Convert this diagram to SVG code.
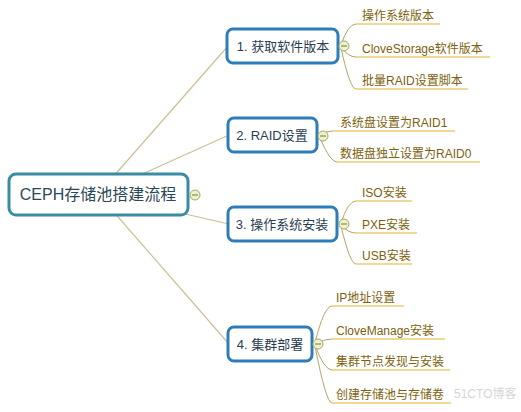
<svg xmlns="http://www.w3.org/2000/svg" width="521" height="412" viewBox="0 0 521 412">
<style>
.root{fill:#fff;stroke:#3a8ca3;stroke-width:3}
.node{fill:#fff;stroke:#2f7db8;stroke-width:3}
.rt{font-family:"Liberation Sans","Noto Sans CJK SC",sans-serif;font-size:16px;fill:#2d4756}
.nt{font-family:"Liberation Sans","Noto Sans CJK SC",sans-serif;font-size:13px;fill:#2b3d52}
.ct{font-family:"Liberation Sans","Noto Sans CJK SC",sans-serif;font-size:12px;fill:#7d5f0e}
.ul{stroke:#e2b42a;stroke-width:1.2;fill:none}
.cc{stroke:#b3a36c;stroke-width:1;fill:none}
.rc{stroke:#cdbf93;stroke-width:1.2;fill:none}
.tog{fill:#eef1cc;stroke:#9ead62;stroke-width:1}
.tm{stroke:#6f7d3a;stroke-width:1}
</style>
<g id="connectors">
<line class="rc" x1="98" y1="194" x2="228" y2="46"/>
<line class="rc" x1="98" y1="194" x2="229" y2="135"/>
<line class="rc" x1="98" y1="194" x2="229" y2="224"/>
<line class="rc" x1="98" y1="194" x2="229" y2="344"/>
<path class="cc" d="M341 45 Q348 24 356 24"/>
<path class="cc" d="M341 47 Q348 57 356 57"/>
<path class="cc" d="M341 48 Q350 89 356 89"/>
<path class="cc" d="M320 135 Q326 131 333 131"/>
<path class="cc" d="M320 138 Q330 162 337 162"/>
<path class="cc" d="M341 223 Q348 201 356 201"/>
<path class="cc" d="M341 225 Q348 233 356 233"/>
<path class="cc" d="M341 226 Q350 264 356 264"/>
<path class="cc" d="M315 343 Q324 306 332 306"/>
<path class="cc" d="M315 344 Q324 339 332 339"/>
<path class="cc" d="M315 345 Q324 370 332 370"/>
<path class="cc" d="M315 346 Q326 403 332 403"/>
<line class="ul" x1="356" y1="24" x2="440" y2="24"/>
<line class="ul" x1="356" y1="57" x2="490" y2="57"/>
<line class="ul" x1="356" y1="89" x2="468" y2="89"/>
<line class="ul" x1="333" y1="131" x2="455" y2="131"/>
<line class="ul" x1="337" y1="162" x2="480" y2="162"/>
<line class="ul" x1="356" y1="201" x2="412" y2="201"/>
<line class="ul" x1="356" y1="233" x2="417" y2="233"/>
<line class="ul" x1="356" y1="264" x2="412" y2="264"/>
<line class="ul" x1="332" y1="306" x2="404" y2="306"/>
<line class="ul" x1="332" y1="339" x2="445" y2="339"/>
<line class="ul" x1="332" y1="370" x2="450" y2="370"/>
<line class="ul" x1="332" y1="403" x2="451" y2="403"/>
</g>
<g id="root">
<rect class="root" x="9" y="174" width="179" height="41" rx="7"/>
<text class="rt" x="98" y="200" text-anchor="middle">CEPH存储池搭建流程</text>
<circle class="tog" cx="195" cy="195" r="5"/><line class="tm" x1="192" y1="195" x2="198" y2="195"/>
</g>
<g id="n1">
<rect class="node" x="227" y="29" width="111" height="34" rx="6"/>
<text class="nt" x="283" y="51" text-anchor="middle">1. 获取软件版本</text>
<circle class="tog" cx="344" cy="46" r="5"/><line class="tm" x1="341" y1="46" x2="347" y2="46"/>
</g>
<g id="n2">
<rect class="node" x="228" y="118" width="89" height="34" rx="6"/>
<text class="nt" x="272" y="140" text-anchor="middle">2. RAID设置</text>
<circle class="tog" cx="323" cy="136" r="5"/><line class="tm" x1="320" y1="136" x2="326" y2="136"/>
</g>
<g id="n3">
<rect class="node" x="228" y="207" width="109" height="34" rx="6"/>
<text class="nt" x="282" y="229" text-anchor="middle">3. 操作系统安装</text>
<circle class="tog" cx="344" cy="224" r="5"/><line class="tm" x1="341" y1="224" x2="347" y2="224"/>
</g>
<g id="n4">
<rect class="node" x="228" y="327" width="84" height="34" rx="6"/>
<text class="nt" x="270" y="349" text-anchor="middle">4. 集群部署</text>
<circle class="tog" cx="318" cy="344" r="5"/><line class="tm" x1="315" y1="344" x2="321" y2="344"/>
</g>
<g id="c1a"><text class="ct" x="362" y="20">操作系统版本</text></g>
<g id="c1b"><text class="ct" x="362" y="53">CloveStorage软件版本</text></g>
<g id="c1c"><text class="ct" x="362" y="85">批量RAID设置脚本</text></g>
<g id="c2a"><text class="ct" x="340" y="127">系统盘设置为RAID1</text></g>
<g id="c2b"><text class="ct" x="340" y="158">数据盘独立设置为RAID0</text></g>
<g id="c3a"><text class="ct" x="362" y="197">ISO安装</text></g>
<g id="c3b"><text class="ct" x="362" y="229">PXE安装</text></g>
<g id="c3c"><text class="ct" x="362" y="260">USB安装</text></g>
<g id="c4a"><text class="ct" x="336" y="302">IP地址设置</text></g>
<g id="c4b"><text class="ct" x="336" y="335">CloveManage安装</text></g>
<g id="c4c"><text class="ct" x="336" y="366">集群节点发现与安装</text></g>
<g id="c4d"><text class="ct" x="336" y="399">创建存储池与存储卷</text></g>
<text x="454" y="398" font-family="Liberation Sans,Noto Sans CJK SC,sans-serif" font-size="12" fill="#d6d6d6">51CTO博客</text>
</svg>
